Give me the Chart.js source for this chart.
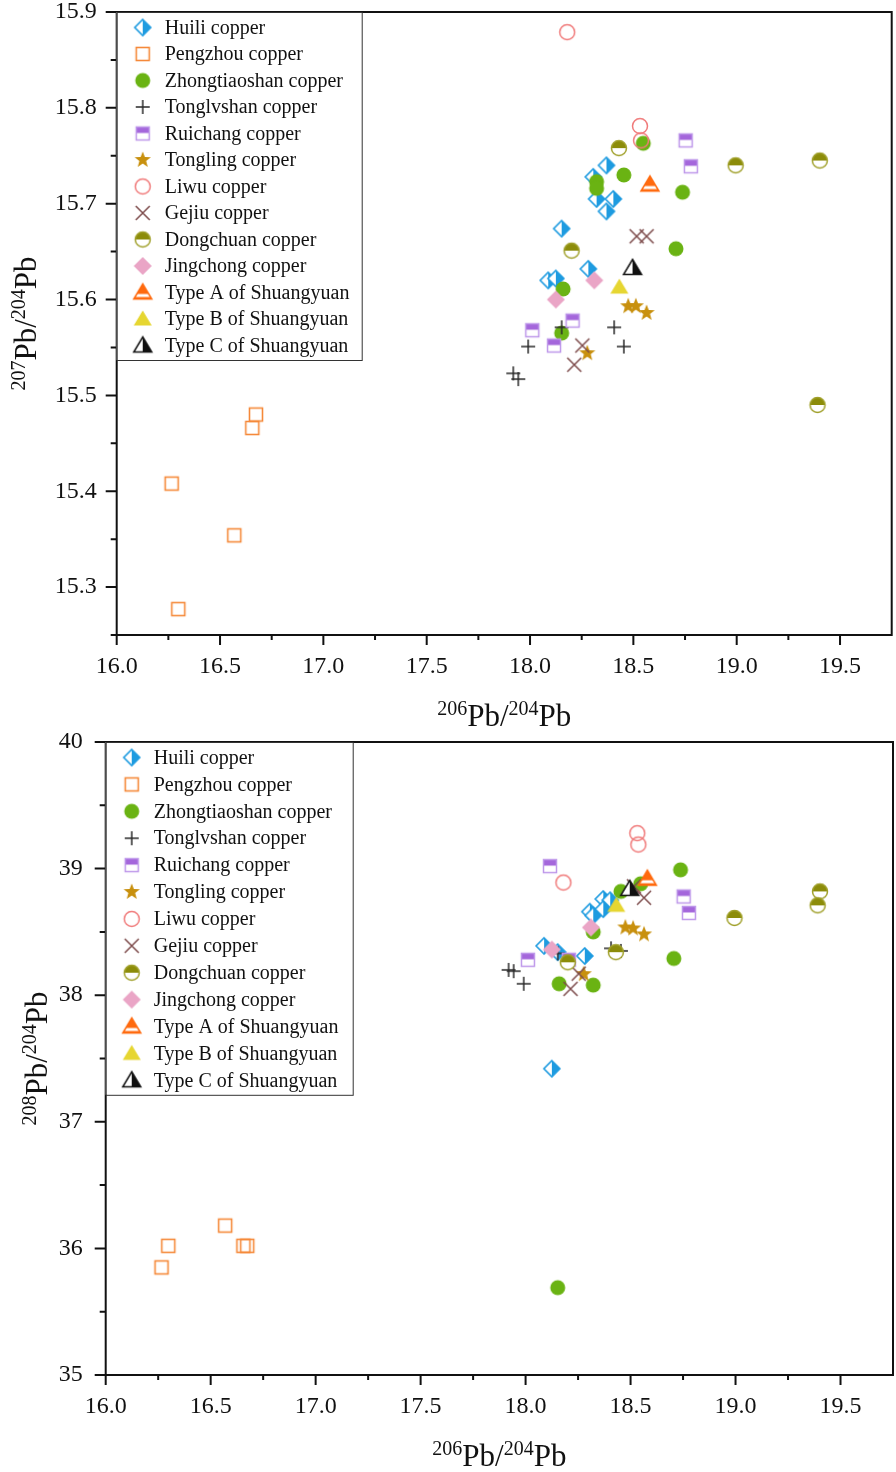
<!DOCTYPE html>
<html>
<head>
<meta charset="utf-8">
<script src="https://cdn.jsdelivr.net/npm/chart.js@4.4.0/dist/chart.umd.min.js"></script>
<style>
  html, body { margin: 0; padding: 0; background: #fff; }
  .wrap { position: relative; width: 896px; }
  canvas { display: block; }
</style>
</head>
<body>
<div class="wrap"><canvas id="c207" width="896" height="730"></canvas></div>
<div class="wrap"><canvas id="c208" width="896" height="742"></canvas></div>
<script>
// ---- data (206Pb/204Pb shared by both plots) ----
const seriesNames = ["Huili copper", "Pengzhou copper", "Zhongtiaoshan copper", "Tonglvshan copper",
  "Ruichang copper", "Tongling copper", "Liwu copper", "Gejiu copper", "Dongchuan copper",
  "Jingchong copper", "Type A of Shuangyuan", "Type B of Shuangyuan", "Type C of Shuangyuan"];

const huiliX   = [18.37, 18.306, 18.322, 18.403, 18.37, 18.153, 18.282, 18.088, 18.125];
const huili207 = [15.74, 15.728, 15.705, 15.705, 15.692, 15.674, 15.632, 15.62, 15.622];
const huili208 = [38.76, 38.66, 38.63, 38.75, 38.68, 38.34, 38.31, 38.39, 37.42];

const pengX   = [16.674, 16.656, 16.266, 16.569, 16.298];
const peng207 = [15.48, 15.466, 15.408, 15.354, 15.277];
const peng208 = [36.02, 36.02, 35.85, 36.18, 36.02];

const zhongX   = [18.548, 18.454, 18.322, 18.322, 18.738, 18.706, 18.16, 18.153];
const zhong207 = [15.763, 15.73, 15.723, 15.716, 15.712, 15.653, 15.611, 15.565];
const zhong208 = [38.88, 38.82, 38.50, 38.08, 38.99, 38.29, 38.09, 35.69];

const tonglvX   = [18.153, 18.407, 17.991, 18.454, 17.919, 17.943];
const tonglv207 = [15.571, 15.571, 15.551, 15.551, 15.523, 15.517];
const tonglv208 = [38.33, 38.37, 38.09, 38.35, 38.2, 38.19];

const ruiX   = [18.753, 18.778, 18.011, 18.206, 18.116];
const rui207 = [15.766, 15.739, 15.568, 15.578, 15.552];
const rui208 = [38.78, 38.65, 38.28, 38.28, 39.02];

const tongX   = [18.475, 18.512, 18.564, 18.277];
const tong207 = [15.593, 15.593, 15.586, 15.544];
const tong208 = [38.535, 38.527, 38.48, 38.166];

const liwuX   = [18.18, 18.532, 18.537];
const liwu207 = [15.879, 15.781, 15.766];
const liwu208 = [38.89, 39.28, 39.19];

const gejiuX   = [18.516, 18.564, 18.253, 18.214];
const gejiu207 = [15.666, 15.666, 15.552, 15.532];
const gejiu208 = [38.86, 38.77, 38.17, 38.05];

const dongX   = [18.43, 18.201, 18.995, 19.402, 19.391];
const dong207 = [15.758, 15.651, 15.74, 15.745, 15.49];
const dong208 = [38.34, 38.26, 38.61, 38.82, 38.71];

const jingX   = [18.311, 18.125];
const jing207 = [15.62, 15.60];
const jing208 = [38.535, 38.36];

const typeAX = [18.58],  typeA207 = [15.72],  typeA208 = [38.92];
const typeBX = [18.432], typeB207 = [15.613], typeB208 = [38.71];
const typeCX = [18.496], typeC207 = [15.633], typeC208 = [38.84];

const xAll = [huiliX, pengX, zhongX, tonglvX, ruiX, tongX, liwuX, gejiuX, dongX, jingX, typeAX, typeBX, typeCX];
const y207All = [huili207, peng207, zhong207, tonglv207, rui207, tong207, liwu207, gejiu207, dong207, jing207, typeA207, typeB207, typeC207];
const y208All = [huili208, peng208, zhong208, tonglv208, rui208, tong208, liwu208, gejiu208, dong208, jing208, typeA208, typeB208, typeC208];

// ---- marker images ----
function mk(draw){
  const c = document.createElement('canvas'); c.width = c.height = 22;
  const g = c.getContext('2d'); g.lineJoin = 'miter'; draw(g, 11); return c;
}
function tri(g, c){ g.beginPath(); g.moveTo(c, c-8.5); g.lineTo(c+9, c+6.5); g.lineTo(c-9, c+6.5); g.closePath(); }
const markers = [
  mk((g,c)=>{ // Huili: half-filled diamond
    const r = 8;
    g.beginPath(); g.moveTo(c,c-r); g.lineTo(c+r,c); g.lineTo(c,c+r); g.lineTo(c-r,c); g.closePath();
    g.fillStyle='#fff'; g.fill();
    g.beginPath(); g.moveTo(c,c-r); g.lineTo(c+r,c); g.lineTo(c,c+r); g.closePath();
    g.fillStyle='#1E9BE0'; g.fill();
    g.beginPath(); g.moveTo(c,c-r); g.lineTo(c+r,c); g.lineTo(c,c+r); g.lineTo(c-r,c); g.closePath();
    g.strokeStyle='#1E9BE0'; g.lineWidth=1.6; g.stroke();
  }),
  mk((g,c)=>{ g.strokeStyle='#F5893A'; g.lineWidth=1.6; g.strokeRect(c-6.5,c-6.5,13,13); }),
  mk((g,c)=>{ g.beginPath(); g.arc(c,c,7.5,0,Math.PI*2); g.fillStyle='#6AB313'; g.fill(); }),
  mk((g,c)=>{ g.strokeStyle='#2a2a2a'; g.lineWidth=1.5; g.beginPath(); g.moveTo(c-7,c); g.lineTo(c+7,c); g.moveTo(c,c-7); g.lineTo(c,c+7); g.stroke(); }),
  mk((g,c)=>{ // Ruichang: top-half square
    g.fillStyle='#fff'; g.fillRect(c-6.5,c-6.5,13,13);
    g.fillStyle='#A466DB'; g.fillRect(c-6.5,c-6.5,13,6);
    g.strokeStyle='#BE98EA'; g.lineWidth=1.5; g.strokeRect(c-6.5,c-6.5,13,13);
  }),
  mk((g,c)=>{ // Tongling star
    g.beginPath();
    for(let i=0;i<10;i++){ const r = i%2 ? 3.6 : 8.5; const a = -Math.PI/2 + i*Math.PI/5; g.lineTo(c+r*Math.cos(a), c+r*Math.sin(a)); }
    g.closePath(); g.fillStyle='#C8900E'; g.fill();
  }),
  mk((g,c)=>{ g.beginPath(); g.arc(c,c,7.5,0,Math.PI*2); g.strokeStyle='#F07A7A'; g.lineWidth=1.5; g.stroke(); }),
  mk((g,c)=>{ g.strokeStyle='#7D4B4B'; g.lineWidth=1.5; g.beginPath(); g.moveTo(c-7,c-7); g.lineTo(c+7,c+7); g.moveTo(c+7,c-7); g.lineTo(c-7,c+7); g.stroke(); }),
  mk((g,c)=>{ // Dongchuan: top-half circle
    g.beginPath(); g.arc(c,c,7.5,0,Math.PI*2); g.fillStyle='#fff'; g.fill();
    g.beginPath(); g.arc(c,c,7.5,Math.PI,0); g.closePath(); g.fillStyle='#8C8C0A'; g.fill();
    g.beginPath(); g.arc(c,c,7.5,0,Math.PI*2); g.strokeStyle='#A0A02A'; g.lineWidth=1.5; g.stroke();
  }),
  mk((g,c)=>{ g.beginPath(); g.moveTo(c,c-9); g.lineTo(c+9,c); g.lineTo(c,c+9); g.lineTo(c-9,c); g.closePath(); g.fillStyle='#EAA5C6'; g.fill(); }),
  mk((g,c)=>{ // Type A
    tri(g,c); g.fillStyle='#FF6A0E'; g.fill();
    g.save(); tri(g,c); g.clip(); g.fillStyle='#fff'; g.fillRect(c-10,c+1.5,20,3); g.restore();
    tri(g,c); g.strokeStyle='#FF6A0E'; g.lineWidth=1.5; g.stroke();
  }),
  mk((g,c)=>{ tri(g,c); g.fillStyle='#E6D631'; g.fill(); }),
  mk((g,c)=>{ // Type C
    tri(g,c); g.fillStyle='#fff'; g.fill();
    g.beginPath(); g.moveTo(c,c-8.5); g.lineTo(c+9,c+6.5); g.lineTo(c,c+6.5); g.closePath(); g.fillStyle='#111'; g.fill();
    tri(g,c); g.strokeStyle='#111'; g.lineWidth=1.5; g.stroke();
  })
];

const FONT = "'Liberation Serif', 'Times New Roman', serif";

// frame, tick marks, axis titles and in-plot legend
const decor = {
  id: 'decor',
  afterDraw(chart, args, o){
    const {ctx, chartArea: a, scales: {x, y}} = chart;
    ctx.save();
    ctx.strokeStyle = '#111'; ctx.lineWidth = 2;
    ctx.strokeRect(a.left, a.top, a.right - a.left, a.bottom - a.top);
    ctx.beginPath();
    x.ticks.forEach(t => {
      const px = x.getPixelForValue(t.value);
      if (px >= a.right - 1) return;
      ctx.moveTo(px, a.bottom); ctx.lineTo(px, a.bottom + (t.label !== '' ? 10 : 5));
    });
    y.ticks.forEach(t => {
      const py = y.getPixelForValue(t.value);
      ctx.moveTo(a.left, py); ctx.lineTo(a.left - (t.label !== '' ? 11 : 6), py);
    });
    ctx.stroke();

    // axis titles with superscripts
    const drawTitle = (sup1, sup2, cx, cy, rot) => {
      const parts = [[sup1, true], ['Pb/', false], [sup2, true], ['Pb', false]];
      const big = '31px ' + FONT, small = '20px ' + FONT;
      let w = 0;
      parts.forEach(p => { ctx.font = p[1] ? small : big; w += ctx.measureText(p[0]).width; });
      ctx.save(); ctx.translate(cx, cy); if (rot) ctx.rotate(-Math.PI / 2);
      ctx.fillStyle = '#111'; ctx.textBaseline = 'alphabetic'; ctx.textAlign = 'left';
      let xx = -w / 2;
      parts.forEach(p => {
        ctx.font = p[1] ? small : big;
        ctx.fillText(p[0], xx, p[1] ? -11 : 0);
        xx += ctx.measureText(p[0]).width;
      });
      ctx.restore();
    };
    drawTitle('206', '204', (a.left + a.right) / 2, a.bottom + 91, false);
    drawTitle(o.ySup, '204', o.yTitleX, (a.top + a.bottom) / 2, true);

    // legend box
    const lx = a.left, ly = a.top, sp = o.legendStep;
    ctx.fillStyle = '#fff';
    ctx.fillRect(lx, ly, o.legendW, 30 + 12 * sp);
    ctx.strokeStyle = '#333'; ctx.lineWidth = 1;
    ctx.strokeRect(lx + 0.5, ly + 0.5, o.legendW, 30 + 12 * sp);
    ctx.font = '20px ' + FONT; ctx.fillStyle = '#111'; ctx.textBaseline = 'middle'; ctx.textAlign = 'left';
    seriesNames.forEach((name, i) => {
      const cy = ly + 15.5 + i * sp;
      const m = markers[i];
      ctx.drawImage(m, lx + 26 - m.width / 2, cy - m.height / 2);
      ctx.fillText(name, lx + 48, cy + 1);
    });
    ctx.restore();
  }
};

function isStep(v, s){ return Math.abs(v / s - Math.round(v / s)) < 1e-6; }

// invisible tick marks only used to push the labels away from the axis
const hiddenGrid = len => ({display: true, drawOnChartArea: false, drawTicks: true, tickLength: len,
  color: 'rgba(0,0,0,0)', tickColor: 'rgba(0,0,0,0)'});

function makeChart(id, yAll, yMin, yMax, yStep, yMajor, yDigits, geom){
  const datasets = seriesNames.map((name, i) => ({
    label: name,
    data: xAll[i].map((xv, j) => ({x: xv, y: yAll[i][j]})),
    pointStyle: markers[i],
    pointRadius: 1,          // image markers ignore radius; small radius keeps layout overflow tiny
    pointBorderWidth: 0,
    pointHoverRadius: 1,
    showLine: false,
    order: seriesNames.length - i
  }));
  return new Chart(document.getElementById(id), {
    type: 'scatter',
    data: {datasets},
    plugins: [decor],
    options: {
      responsive: false,
      animation: false,
      layout: {padding: {top: geom.top, right: geom.right, left: 0, bottom: 0}},
      plugins: {
        legend: {display: false},
        tooltip: {enabled: false},
        decor: {ySup: geom.ySup, yTitleX: geom.yTitleX, legendW: geom.legendW, legendStep: geom.legendStep}
      },
      scales: {
        x: {
          type: 'linear', min: 16, max: 19.75,
          grid: hiddenGrid(20), border: {display: false},
          ticks: {stepSize: 0.25, autoSkip: false, maxRotation: 0, padding: 0, color: '#111',
            font: {family: FONT, size: 24, lineHeight: 1},
            callback: v => isStep(v, 0.5) ? v.toFixed(1) : ''},
          afterFit: s => { s.height = geom.xH; s.paddingLeft = 0; s.paddingRight = 0; }
        },
        y: {
          type: 'linear', min: yMin, max: yMax,
          grid: hiddenGrid(geom.yPad), border: {display: false},
          ticks: {stepSize: yStep, autoSkip: false, padding: 0, color: '#111',
            font: {family: FONT, size: 24, lineHeight: 1},
            callback: v => isStep(v, yMajor) ? v.toFixed(yDigits) : ''},
          afterFit: s => { s.width = geom.yW; s.paddingTop = 0; s.paddingBottom = 0; }
        }
      }
    }
  });
}

makeChart('c207', y207All, 15.25, 15.9, 0.05, 0.1, 1,
  {top: 12, right: 4.3, xH: 95, yW: 116.7, yPad: 20, ySup: '207', yTitleX: 36, legendW: 245, legendStep: 26.5});
makeChart('c208', y208All, 35, 40, 0.5, 1, 0,
  {top: 12, right: 3, xH: 97, yW: 105.7, yPad: 23, ySup: '208', yTitleX: 47, legendW: 247, legendStep: 26.9});
</script>
</body>
</html>
